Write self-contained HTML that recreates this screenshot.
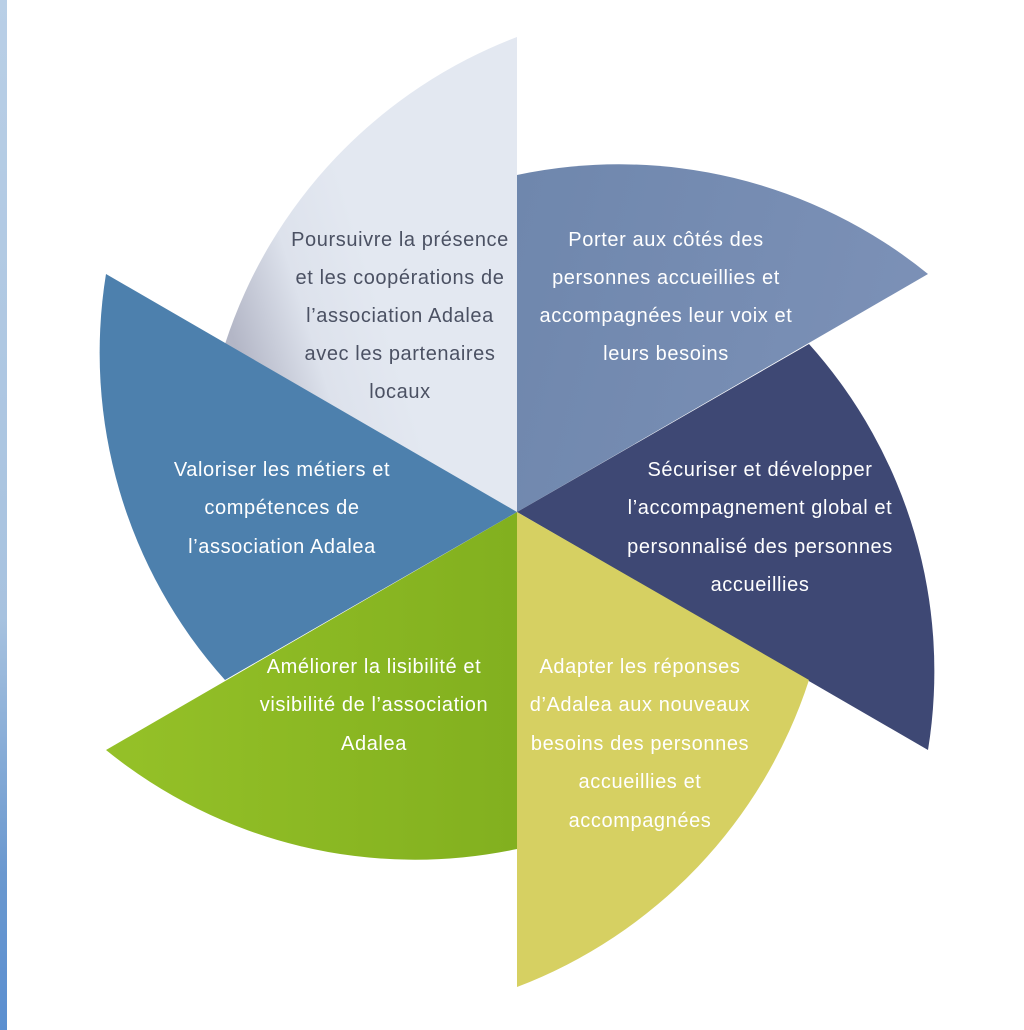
<!DOCTYPE html>
<html><head><meta charset="utf-8"><style>
html,body{margin:0;padding:0;background:#fff;}
body{width:1024px;height:1030px;overflow:hidden;position:relative;font-family:"Liberation Sans",sans-serif;}
.strip{position:absolute;left:0;top:0;width:7px;height:1030px;background:linear-gradient(#b9cfe6,#a7c2df 60%,#6a98cf 85%,#5b8fd0);}
svg{position:absolute;left:0;top:0;}
text{font-family:"Liberation Sans",sans-serif;font-size:20px;letter-spacing:0.6px;text-anchor:middle;}
</style></head><body>
<div class="strip"></div>
<svg width="1024" height="1030" viewBox="0 0 1024 1030">
<defs>
<linearGradient id="g1" x1="235" y1="345" x2="380" y2="300" gradientUnits="userSpaceOnUse">
<stop offset="0" stop-color="#b3b6c6"/><stop offset="0.5" stop-color="#dde2ec"/><stop offset="1" stop-color="#e3e8f1"/>
</linearGradient>
<linearGradient id="g2" x1="517" y1="200" x2="900" y2="300" gradientUnits="userSpaceOnUse">
<stop offset="0" stop-color="#6f87ad"/><stop offset="1" stop-color="#7b90b6"/>
</linearGradient>
<linearGradient id="g5" x1="106" y1="750" x2="517" y2="750" gradientUnits="userSpaceOnUse">
<stop offset="0" stop-color="#95c128"/><stop offset="1" stop-color="#82b01f"/>
</linearGradient>
</defs>
<path d="M517 512 L225 344 A490 490 0 0 1 517 37 Z" fill="url(#g1)"/>
<path d="M517 512 L517 175 A490 490 0 0 1 928 274 Z" fill="url(#g2)"/>
<path d="M517 512 L809 344 A490 490 0 0 1 928 750 Z" fill="#3e4874"/>
<path d="M517 512 L809 680 A490 490 0 0 1 517 987 Z" fill="#d6d062"/>
<path d="M517 512 L517 849 A490 490 0 0 1 106 750 Z" fill="url(#g5)"/>
<path d="M517 512 L225 680 A490 490 0 0 1 106 274 Z" fill="#4d80ad"/>
<g fill="#4b5163">
<text x="400" y="246">Poursuivre la présence</text>
<text x="400" y="284">et les coopérations de</text>
<text x="400" y="322">l’association Adalea</text>
<text x="400" y="360">avec les partenaires</text>
<text x="400" y="398">locaux</text>
</g>
<g fill="#ffffff">
<text x="666" y="246">Porter aux côtés des</text>
<text x="666" y="284">personnes accueillies et</text>
<text x="666" y="322">accompagnées leur voix et</text>
<text x="666" y="360">leurs besoins</text>
<text x="760" y="476">Sécuriser et développer</text>
<text x="760" y="514">l’accompagnement global et</text>
<text x="760" y="553">personnalisé des personnes</text>
<text x="760" y="591">accueillies</text>
<text x="282" y="476">Valoriser les métiers et</text>
<text x="282" y="514">compétences de</text>
<text x="282" y="553">l’association Adalea</text>
<text x="374" y="673">Améliorer la lisibilité et</text>
<text x="374" y="711">visibilité de l’association</text>
<text x="374" y="750">Adalea</text>
<text x="640" y="673">Adapter les réponses</text>
<text x="640" y="711">d’Adalea aux nouveaux</text>
<text x="640" y="750">besoins des personnes</text>
<text x="640" y="788">accueillies et</text>
<text x="640" y="827">accompagnées</text>
</g>
</svg>
</body></html>
